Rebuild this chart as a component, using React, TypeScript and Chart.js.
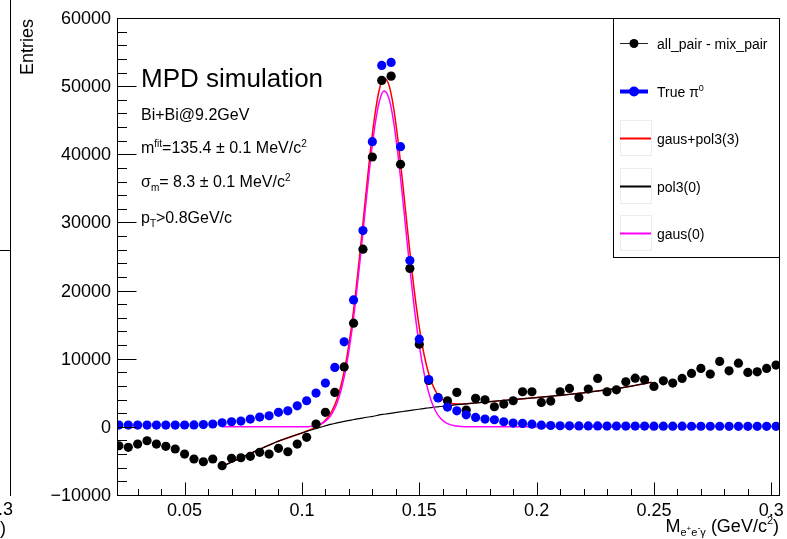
import React, { useEffect, useRef } from "react";
import { Chart, registerables } from "chart.js";

Chart.register(...registerables);

// ---------------- data ----------------
const binCenters = [
  0.022, 0.026, 0.03, 0.034, 0.038, 0.042, 0.046, 0.05, 0.054, 0.058,
  0.062, 0.066, 0.07, 0.074, 0.078, 0.082, 0.086, 0.09, 0.094, 0.098,
  0.102, 0.106, 0.11, 0.114, 0.118, 0.122, 0.126, 0.13, 0.134, 0.138,
  0.142, 0.146, 0.15, 0.154, 0.158, 0.162, 0.166, 0.17, 0.174, 0.178,
  0.182, 0.186, 0.19, 0.194, 0.198, 0.202, 0.206, 0.21, 0.214, 0.218,
  0.222, 0.226, 0.23, 0.234, 0.238, 0.242, 0.246, 0.25, 0.254, 0.258,
  0.262, 0.266, 0.27, 0.274, 0.278, 0.282, 0.286, 0.29, 0.294, 0.298,
  0.302,
];

// all_pair - mix_pair
const allPairMinusMix = [
  -2770, -3010, -2520, -2040, -2520, -2860, -3250, -3990, -4720, -5120,
  -4720, -5700, -4620, -4530, -4320, -3740, -3990, -3150, -3650, -2520,
  -1540, 410, 2130, 5060, 8800, 15220, 26070, 39600, 50840, 51470,
  38530, 23240, 12140, 6800, 4300, 3830, 5060, 2460, 4180, 3970,
  2950, 3340, 3830, 5150, 5150, 3590, 3780, 5150, 5640, 4320,
  5540, 7110, 5150, 5440, 6610, 7150, 6900, 5940, 6760, 6420,
  7110, 7840, 8580, 7740, 9600, 8220, 9350, 7990, 8080, 8580,
  9060,
];

// True pi0
const truePi0 = [
  260, 260, 260, 260, 260, 260, 260, 270, 280, 330,
  420, 600, 750, 850, 1140, 1440, 1630, 2130, 2360, 3090,
  3830, 4960, 6420, 8720, 12480, 18630, 28810, 41850, 53040, 53480,
  41120, 24410, 12870, 6950, 4250, 2900, 2360, 1770, 1390, 1140,
  1040, 750, 560, 500, 400, 250, 200, 160, 150, 140,
  130, 130, 120, 120, 110, 110, 110, 100, 100, 100,
  100, 90, 90, 90, 90, 80, 80, 80, 80, 80,
  80,
];

// fit curves, sampled
const fitX = [
  0.066, 0.08, 0.09, 0.1, 0.105, 0.108, 0.111, 0.113, 0.115, 0.117,
  0.119, 0.121, 0.123, 0.125, 0.127, 0.129, 0.131, 0.133, 0.135, 0.137,
  0.139, 0.141, 0.143, 0.145, 0.147, 0.149, 0.151, 0.153, 0.155, 0.157,
  0.159, 0.162, 0.166, 0.17, 0.18, 0.19, 0.2, 0.21, 0.22, 0.23,
  0.24, 0.249,
];
const fitGaus = [
  0, 0, 0, 0, 140, 410, 1130, 2050, 3540, 5810,
  9060, 13410, 18860, 25180, 31930, 38460, 43980, 47790, 49300, 48280,
  44920, 39680, 33290, 26520, 20070, 14420, 9840, 6370, 3920, 2290,
  1270, 480, 110, 20, 0, 0, 0, 0, 0, 0,
  0, 0,
];
const fitPol3 = [
  -5800, -3600, -2100, -900, -350, -50, 250, 420, 580, 730,
  870, 1000, 1130, 1250, 1370, 1480, 1590, 1750, 1850, 1950,
  2050, 2150, 2250, 2350, 2450, 2550, 2650, 2740, 2830, 2910,
  2990, 3100, 3250, 3380, 3700, 4000, 4300, 4620, 5000, 5430,
  5950, 6550,
];
const fitTotal = [
  -5800, -3600, -2100, -900, -210, 360, 1380, 2470, 4120, 6540,
  9930, 14410, 19990, 26430, 33300, 39940, 45570, 49540, 51150, 50230,
  46970, 41830, 35540, 28870, 22520, 16970, 12490, 9110, 6750, 5200,
  4260, 3580, 3360, 3400, 3700, 4000, 4300, 4620, 5000, 5430,
  5950, 6550,
];

const xTickValues = [0.05, 0.1, 0.15, 0.2, 0.25, 0.3];
const xTickLabels = ["0.05", "0.1", "0.15", "0.2", "0.25", "0.3"];
const yTickValues = [-10000, 0, 10000, 20000, 30000, 40000, 50000, 60000];
const yTickLabels = ["\u221210000", "0", "10000", "20000", "30000", "40000", "50000", "60000"];

const X_MIN = 0.0212;
const X_MAX = 0.3037;
const Y_MIN = -10000;
const Y_MAX = 60000;

// ---------------- drawing helpers ----------------
const FAMILY = "'Liberation Sans', Arial, Helvetica, sans-serif";
const f = (px: number) => `${px}px ${FAMILY}`;

type Seg = { t: string; size: number; dy?: number };

function drawRich(ctx: CanvasRenderingContext2D, x: number, y: number, segs: Seg[], align: "left" | "right" = "left") {
  ctx.textAlign = "left";
  ctx.textBaseline = "alphabetic";
  let total = 0;
  for (const s of segs) {
    ctx.font = f(s.size);
    total += ctx.measureText(s.t).width;
  }
  let cx = align === "right" ? x - total : x;
  for (const s of segs) {
    ctx.font = f(s.size);
    ctx.fillText(s.t, cx, y + (s.dy || 0));
    cx += ctx.measureText(s.t).width;
  }
}

function line(ctx: CanvasRenderingContext2D, x1: number, y1: number, x2: number, y2: number) {
  ctx.beginPath();
  ctx.moveTo(x1, y1);
  ctx.lineTo(x2, y2);
  ctx.stroke();
}

const decorPlugin = {
  id: "rootDecor",
  afterDatasetsDraw(chart: any) {
    const { ctx, chartArea: a, scales } = chart;
    const xs = scales.x;
    const ys = scales.y;
    ctx.save();
    ctx.strokeStyle = "#000";
    ctx.fillStyle = "#000";
    ctx.lineWidth = 1;

    const L = Math.round(a.left) + 0.5;
    const R = Math.round(a.right) - 0.5;
    const T = Math.round(a.top) + 0.5;
    const B = Math.round(a.bottom) + 0.5;

    // frame
    ctx.strokeRect(L, T, R - L, B - T);

    // y ticks (major 10000, minor 2000)
    for (let k = -5; k <= 30; k++) {
      const v = k * 2000;
      const py = Math.round(ys.getPixelForValue(v)) + 0.5;
      const len = k % 5 === 0 ? 19 : 9.5;
      line(ctx, L, py, L + len, py);
    }
    // x ticks (major 0.05, minor 0.01)
    for (let k = 3; k <= 30; k++) {
      const px = Math.round(xs.getPixelForValue(k / 100)) + 0.5;
      const len = k % 5 === 0 ? 13 : 6.5;
      line(ctx, px, B, px, B - len);
    }

    // tick labels
    ctx.font = f(18);
    ctx.textAlign = "right";
    ctx.textBaseline = "middle";
    yTickValues.forEach((v, i) => {
      ctx.fillText(yTickLabels[i], a.left - 6, ys.getPixelForValue(v) + 1);
    });
    ctx.textAlign = "center";
    ctx.textBaseline = "alphabetic";
    xTickValues.forEach((v, i) => {
      ctx.fillText(xTickLabels[i], xs.getPixelForValue(v), B + 20);
    });

    // axis titles
    ctx.save();
    ctx.translate(33, a.top + 1);
    ctx.rotate(-Math.PI / 2);
    ctx.font = f(18);
    ctx.textAlign = "right";
    ctx.textBaseline = "alphabetic";
    ctx.fillText("Entries", 0, 0);
    ctx.restore();

    drawRich(
      ctx,
      779,
      532,
      [
        { t: "M", size: 18 },
        { t: "e", size: 11, dy: 4 },
        { t: "+", size: 8, dy: -1 },
        { t: "e", size: 11, dy: 4 },
        { t: "-", size: 9, dy: -1 },
        { t: "\u03b3", size: 11, dy: 4 },
        { t: " (GeV/c", size: 18 },
        { t: "2", size: 11, dy: -8 },
        { t: ")", size: 18 },
      ],
      "right"
    );

    // annotations
    ctx.font = f(26);
    ctx.textAlign = "left";
    ctx.fillText("MPD simulation", 141, 87);
    drawRich(ctx, 141, 120, [{ t: "Bi+Bi@9.2GeV", size: 16 }]);
    drawRich(ctx, 141, 153, [
      { t: "m", size: 16 },
      { t: "fit", size: 10, dy: -6 },
      { t: "=135.4 \u00b1 0.1 MeV/c", size: 16 },
      { t: "2", size: 10, dy: -6 },
    ]);
    drawRich(ctx, 141, 187, [
      { t: "\u03c3", size: 16 },
      { t: "m", size: 10, dy: 4 },
      { t: "= 8.3 \u00b1 0.1 MeV/c", size: 16 },
      { t: "2", size: 10, dy: -6 },
    ]);
    drawRich(ctx, 141, 223, [
      { t: "p", size: 16 },
      { t: "T", size: 10, dy: 4 },
      { t: ">0.8GeV/c", size: 16 },
    ]);

    // legend
    const lx1 = 613.5;
    const lx2 = R;
    const ly1 = T;
    const ly2 = 257.5;
    ctx.fillStyle = "#fff";
    ctx.fillRect(lx1, ly1, lx2 - lx1, ly2 - ly1);
    ctx.strokeStyle = "#000";
    ctx.lineWidth = 1;
    ctx.strokeRect(lx1, ly1, lx2 - lx1, ly2 - ly1);

    const tx = 657;
    // entry 1
    let ey = 43.5;
    ctx.strokeStyle = "#222";
    ctx.lineWidth = 1;
    line(ctx, 620, ey, 648, ey);
    ctx.fillStyle = "#000";
    ctx.beginPath();
    ctx.arc(634, ey, 4.5, 0, Math.PI * 2);
    ctx.fill();
    drawRich(ctx, tx, ey + 5, [{ t: "all_pair - mix_pair", size: 14 }]);

    // entry 2
    ey = 91.5;
    ctx.strokeStyle = "#0000ff";
    ctx.lineWidth = 4;
    line(ctx, 620, ey, 648, ey);
    ctx.fillStyle = "#0000ff";
    ctx.beginPath();
    ctx.arc(634, ey, 5, 0, Math.PI * 2);
    ctx.fill();
    ctx.fillStyle = "#000";
    drawRich(ctx, tx, ey + 5, [
      { t: "True \u03c0", size: 14 },
      { t: "0", size: 9, dy: -6 },
    ]);

    const fitEntries: [number, string, string][] = [
      [138.5, "#ff0000", "gaus+pol3(3)"],
      [186.5, "#000000", "pol3(0)"],
      [233.5, "#ff00ff", "gaus(0)"],
    ];
    for (const [yy, col, label] of fitEntries) {
      ctx.strokeStyle = "#ececec";
      ctx.lineWidth = 1;
      ctx.strokeRect(620.5, yy - 18, 31, 35);
      ctx.strokeStyle = col;
      ctx.lineWidth = 2;
      line(ctx, 620, yy, 651, yy);
      ctx.fillStyle = "#000";
      drawRich(ctx, tx, yy + 5, [{ t: label, size: 14 }]);
    }

    // fragment of the neighbouring pad at the far left
    ctx.strokeStyle = "#000";
    ctx.lineWidth = 1;
    line(ctx, 10.5, 0, 10.5, 496);
    line(ctx, 0, 250.5, 10.5, 250.5);
    ctx.fillStyle = "#000";
    ctx.textAlign = "right";
    ctx.font = f(18);
    ctx.fillText("0.3", 13, 515);
    ctx.fillText(")", 6, 534);

    ctx.restore();
  },
};

export default function App() {
  const ref = useRef<HTMLCanvasElement | null>(null);

  useEffect(() => {
    if (!ref.current) return;
    const pts = (xa: number[], ya: number[]) => xa.map((x, i) => ({ x, y: ya[i] }));

    const chart = new Chart(ref.current, {
      type: "scatter",
      data: {
        datasets: [
          {
            label: "True pi0",
            data: pts(binCenters, truePi0),
            showLine: false,
            pointRadius: 4.6,
            pointBorderWidth: 0,
            pointBackgroundColor: "#0000ff",
            borderColor: "#0000ff",
            order: 0,
            clip: 0,
          },
          {
            label: "all_pair - mix_pair",
            data: pts(binCenters, allPairMinusMix),
            showLine: false,
            pointRadius: 4.6,
            pointBorderWidth: 0,
            pointBackgroundColor: "#000",
            borderColor: "#000",
            order: 1,
            clip: 0,
          },
          {
            label: "gaus(0)",
            data: pts(fitX, fitGaus),
            showLine: true,
            borderColor: "#ff00ff",
            borderWidth: 1.5,
            pointRadius: 0,
            cubicInterpolationMode: "monotone",
            order: 2,
            clip: 0,
          },
          {
            label: "pol3(0)",
            data: pts(fitX, fitPol3),
            showLine: true,
            borderColor: "#000",
            borderWidth: 1.2,
            pointRadius: 0,
            cubicInterpolationMode: "monotone",
            order: 3,
            clip: 0,
          },
          {
            label: "gaus+pol3(3)",
            data: pts(fitX, fitTotal),
            showLine: true,
            borderColor: "#ff0000",
            borderWidth: 1.5,
            pointRadius: 0,
            cubicInterpolationMode: "monotone",
            order: 4,
            clip: 0,
          },
        ],
      },
      options: {
        animation: false,
        responsive: false,
        devicePixelRatio: 1,
        layout: { padding: { left: 0, right: 7, top: 18, bottom: 0 } },
        plugins: { legend: { display: false }, tooltip: { enabled: false } },
        scales: {
          x: {
            type: "linear",
            min: X_MIN,
            max: X_MAX,
            grid: { display: false },
            border: { display: false },
            ticks: { display: false },
            afterFit: (s: any) => {
              s.height = 44;
            },
          },
          y: {
            type: "linear",
            min: Y_MIN,
            max: Y_MAX,
            grid: { display: false },
            border: { display: false },
            ticks: { display: false },
            afterFit: (s: any) => {
              s.width = 117;
            },
          },
        },
      } as any,
      plugins: [decorPlugin],
    });
    return () => chart.destroy();
  }, []);

  return (
    <div style={{ position: "fixed", left: 0, top: 0, width: 787, height: 539, background: "#fff" }}>
      <canvas ref={ref} width={787} height={539} style={{ display: "block", width: 787, height: 539 }} />
    </div>
  );
}
